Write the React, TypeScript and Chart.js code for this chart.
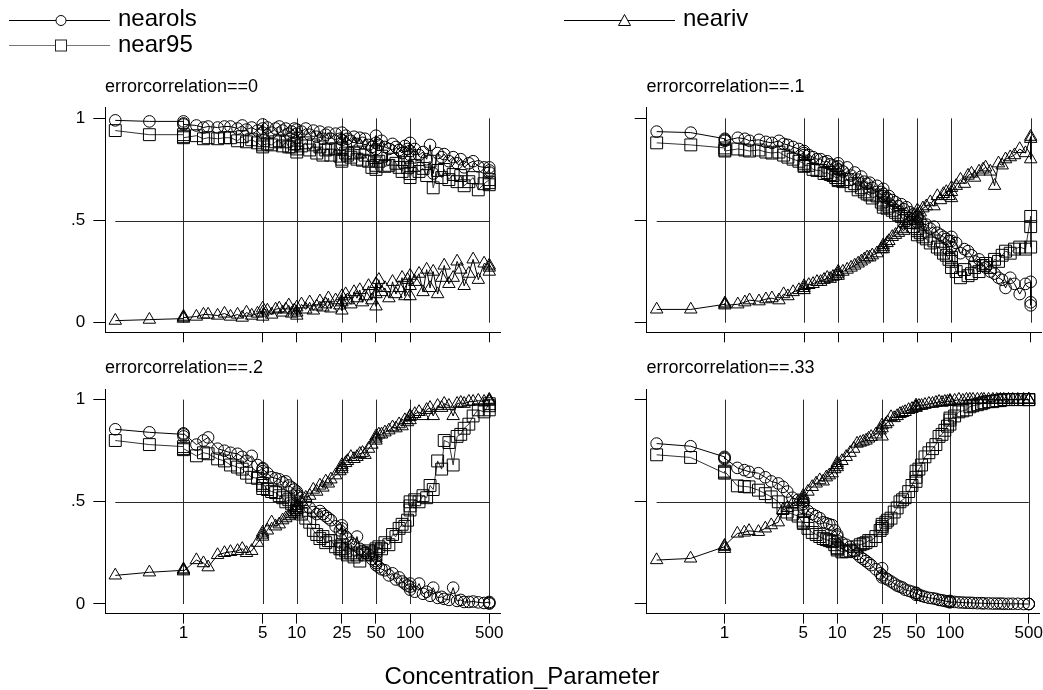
import React, { useEffect, useRef } from "react";
import { Chart, registerables } from "chart.js";

Chart.register(...registerables);

const W = 1043;
const H = 690;
const FONT = "'Liberation Sans', Arial, Helvetica, sans-serif";

// Concentration parameter (x) values shared by all panels
const CONC = [
  0.25, 0.5, 1, 1, 1, 1.3, 1.5, 1.65, 2, 2.3,
  2.6, 3, 3.3, 3.6, 4, 4.5, 5, 5, 5, 5.5,
  6, 6.5, 7, 7.5, 8, 8.5, 9, 9.5, 10, 10,
  10, 11, 12, 13, 14, 15, 16, 17, 18, 19,
  20, 22, 24, 25, 25, 25, 27, 28, 30, 32,
  34, 36, 38, 40, 43, 46, 50, 50, 50, 53,
  56, 60, 65, 70, 75, 80, 85, 90, 95, 100,
  100, 100, 110, 120, 130, 140, 150, 160, 175, 190,
  200, 220, 240, 260, 280, 300, 330, 360, 400, 450,
  500, 500, 500,
];

const X_TICKS = [1, 5, 10, 25, 50, 100, 500];
const Y_TICKS = [0, 0.5, 1];
const Y_TICK_LABELS = ["0", ".5", "1"];

const PANEL_TITLES = [
  "errorcorrelation==0",
  "errorcorrelation==.1",
  "errorcorrelation==.2",
  "errorcorrelation==.33",
];
const SERIES_NAMES = ["nearols", "neariv", "near95"];
const X_TITLE = "Concentration_Parameter";

// errorcorrelation == 0
const NEAROLS_R0 = [
  0.99, 0.985, 0.985, 0.975, 0.97, 0.965, 0.955, 0.96, 0.955, 0.96,
  0.96, 0.95, 0.965, 0.945, 0.955, 0.94, 0.97, 0.95, 0.93, 0.955,
  0.93, 0.95, 0.96, 0.94, 0.95, 0.925, 0.935, 0.95, 0.945, 0.925,
  0.905, 0.935, 0.95, 0.92, 0.94, 0.91, 0.935, 0.9, 0.92, 0.93,
  0.9, 0.925, 0.9, 0.93, 0.895, 0.87, 0.915, 0.9, 0.89, 0.91,
  0.875, 0.905, 0.88, 0.9, 0.87, 0.86, 0.915, 0.88, 0.85, 0.87,
  0.89, 0.86, 0.85, 0.875, 0.86, 0.845, 0.83, 0.865, 0.85, 0.88,
  0.84, 0.82, 0.85, 0.82, 0.835, 0.8, 0.87, 0.73, 0.83, 0.81,
  0.825, 0.79, 0.81, 0.78, 0.8, 0.76, 0.78, 0.79, 0.765, 0.76,
  0.76, 0.745, 0.735,
];
const NEAR95_R0 = [
  0.94, 0.92, 0.92, 0.91, 0.905, 0.915, 0.9, 0.905, 0.9, 0.905,
  0.905, 0.89, 0.91, 0.885, 0.895, 0.88, 0.86, 0.89, 0.87, 0.875,
  0.87, 0.885, 0.89, 0.865, 0.885, 0.86, 0.86, 0.875, 0.875, 0.85,
  0.835, 0.865, 0.88, 0.845, 0.87, 0.83, 0.86, 0.82, 0.845, 0.85,
  0.82, 0.85, 0.815, 0.855, 0.8, 0.79, 0.83, 0.82, 0.81, 0.83,
  0.8, 0.835, 0.795, 0.82, 0.79, 0.76, 0.84, 0.77, 0.75, 0.79,
  0.815, 0.765, 0.77, 0.8, 0.78, 0.76, 0.74, 0.785, 0.76, 0.81,
  0.73, 0.71, 0.77, 0.74, 0.755, 0.72, 0.79, 0.66, 0.745, 0.71,
  0.75, 0.7, 0.725, 0.69, 0.72, 0.67, 0.69, 0.71, 0.65, 0.68,
  0.7, 0.685, 0.675,
];
const NEARIV_R0 = [
  0.01, 0.015, 0.02, 0.03, 0.025, 0.03, 0.04, 0.04, 0.035, 0.045,
  0.03, 0.04, 0.025, 0.05, 0.035, 0.045, 0.05, 0.03, 0.07, 0.06,
  0.04, 0.065, 0.07, 0.05, 0.065, 0.085, 0.045, 0.06, 0.075, 0.05,
  0.035, 0.09, 0.065, 0.1, 0.06, 0.08, 0.105, 0.075, 0.09, 0.12,
  0.07, 0.11, 0.085, 0.13, 0.1, 0.06, 0.14, 0.11, 0.09, 0.15,
  0.12, 0.16, 0.1, 0.13, 0.18, 0.11, 0.19, 0.08, 0.14, 0.21,
  0.15, 0.17, 0.12, 0.2, 0.14, 0.17, 0.22, 0.13, 0.21, 0.23,
  0.13, 0.18, 0.2, 0.24, 0.15, 0.26, 0.17, 0.25, 0.14, 0.22,
  0.28, 0.19, 0.22, 0.3, 0.26, 0.18, 0.24, 0.31, 0.21, 0.29,
  0.28, 0.27, 0.25,
];

// errorcorrelation == .1
const NEAROLS_R1 = [
  0.935, 0.93, 0.9, 0.895, 0.89, 0.905, 0.9, 0.89, 0.895, 0.885,
  0.88, 0.89, 0.875, 0.87, 0.86, 0.85, 0.83, 0.84, 0.82, 0.82,
  0.81, 0.8, 0.8, 0.785, 0.79, 0.775, 0.77, 0.76, 0.78, 0.75,
  0.765, 0.74, 0.76, 0.72, 0.735, 0.7, 0.715, 0.69, 0.68, 0.685,
  0.66, 0.67, 0.64, 0.63, 0.655, 0.62, 0.61, 0.62, 0.6, 0.59,
  0.57, 0.58, 0.555, 0.565, 0.54, 0.53, 0.515, 0.49, 0.52, 0.5,
  0.48, 0.48, 0.46, 0.47, 0.44, 0.43, 0.42, 0.41, 0.4, 0.4,
  0.37, 0.42, 0.39, 0.34, 0.36, 0.35, 0.33, 0.3, 0.31, 0.28,
  0.27, 0.25, 0.24, 0.22, 0.21, 0.17, 0.22, 0.19, 0.14, 0.19,
  0.2, 0.1, 0.085,
];
const NEAR95_R1 = [
  0.88, 0.87, 0.855, 0.845, 0.84, 0.85, 0.845, 0.84, 0.845, 0.835,
  0.83, 0.835, 0.82, 0.81, 0.8, 0.79, 0.78, 0.765, 0.77, 0.77,
  0.75, 0.745, 0.745, 0.73, 0.735, 0.725, 0.72, 0.71, 0.71, 0.695,
  0.7, 0.69, 0.7, 0.67, 0.68, 0.65, 0.66, 0.64, 0.63, 0.625,
  0.61, 0.62, 0.59, 0.58, 0.6, 0.565, 0.56, 0.57, 0.55, 0.54,
  0.53, 0.52, 0.5, 0.51, 0.49, 0.47, 0.46, 0.43, 0.45, 0.44,
  0.42, 0.41, 0.39, 0.4, 0.37, 0.36, 0.34, 0.33, 0.31, 0.3,
  0.27, 0.32, 0.25, 0.22, 0.26, 0.23, 0.24, 0.27, 0.25, 0.28,
  0.29, 0.27, 0.31, 0.3, 0.33, 0.35, 0.34, 0.36, 0.37, 0.36,
  0.52, 0.47, 0.37,
];
const NEARIV_R1 = [
  0.065, 0.065, 0.09, 0.095, 0.085, 0.09, 0.1, 0.11, 0.105, 0.115,
  0.12, 0.11, 0.14, 0.13, 0.15, 0.16, 0.18, 0.17, 0.16, 0.185,
  0.19, 0.2, 0.2, 0.21, 0.22, 0.215, 0.225, 0.23, 0.24, 0.23,
  0.25, 0.25, 0.26, 0.27, 0.28, 0.29, 0.3, 0.31, 0.32, 0.32,
  0.33, 0.34, 0.36, 0.37, 0.38, 0.36, 0.39, 0.4, 0.42, 0.43,
  0.44, 0.46, 0.45, 0.48, 0.5, 0.52, 0.5, 0.55, 0.53, 0.54,
  0.56, 0.57, 0.59, 0.57, 0.62, 0.6, 0.63, 0.64, 0.62, 0.66,
  0.61, 0.64, 0.67, 0.7, 0.68, 0.72, 0.73, 0.71, 0.74, 0.75,
  0.76, 0.74, 0.67, 0.78, 0.77, 0.8, 0.81, 0.82, 0.85, 0.83,
  0.91, 0.9, 0.8,
];

// errorcorrelation == .2
const NEAROLS_R2 = [
  0.855, 0.84, 0.83, 0.82, 0.835, 0.78, 0.8, 0.815, 0.76, 0.75,
  0.74, 0.735, 0.72, 0.7, 0.725, 0.68, 0.665, 0.65, 0.66, 0.64,
  0.62, 0.615, 0.61, 0.595, 0.6, 0.58, 0.57, 0.56, 0.55, 0.53,
  0.54, 0.52, 0.5, 0.47, 0.45, 0.44, 0.455, 0.44, 0.43, 0.42,
  0.41, 0.38, 0.36, 0.385, 0.34, 0.37, 0.33, 0.32, 0.3, 0.29,
  0.33, 0.27, 0.26, 0.25, 0.24, 0.22, 0.19, 0.21, 0.2, 0.18,
  0.17, 0.165, 0.14, 0.15, 0.12, 0.13, 0.11, 0.1, 0.09, 0.085,
  0.07, 0.1, 0.06, 0.1, 0.05, 0.06, 0.04, 0.08, 0.03, 0.035,
  0.025, 0.02, 0.08, 0.015, 0.02, 0.01, 0.01, 0.012, 0.008, 0.005,
  0.01, 0.005, 0.002,
];
const NEAR95_R2 = [
  0.8, 0.78, 0.77, 0.755, 0.76, 0.725, 0.74, 0.735, 0.71, 0.7,
  0.68, 0.67, 0.66, 0.64, 0.62, 0.615, 0.58, 0.565, 0.59, 0.56,
  0.55, 0.545, 0.53, 0.52, 0.5, 0.51, 0.49, 0.48, 0.47, 0.45,
  0.46, 0.44, 0.42, 0.4, 0.36, 0.34, 0.32, 0.33, 0.3, 0.31,
  0.31, 0.28, 0.27, 0.29, 0.25, 0.27, 0.26, 0.24, 0.25, 0.23,
  0.24, 0.21, 0.25, 0.24, 0.26, 0.25, 0.27, 0.26, 0.24, 0.28,
  0.27, 0.3, 0.29, 0.34, 0.33, 0.37, 0.39, 0.38, 0.41, 0.48,
  0.5, 0.46, 0.51, 0.5, 0.53, 0.52, 0.58, 0.56, 0.7, 0.66,
  0.8, 0.79, 0.68, 0.82, 0.83, 0.86, 0.88, 0.92, 0.95, 0.94,
  0.98, 0.97, 0.95,
];
const NEARIV_R2 = [
  0.14, 0.155, 0.165, 0.17, 0.16, 0.215, 0.2, 0.18, 0.24, 0.25,
  0.255, 0.26, 0.27, 0.25, 0.26, 0.3, 0.33, 0.35, 0.34, 0.36,
  0.4, 0.38, 0.39, 0.41, 0.42, 0.43, 0.44, 0.45, 0.48, 0.46,
  0.47, 0.5, 0.52, 0.53, 0.56, 0.55, 0.58, 0.57, 0.6, 0.59,
  0.61, 0.63, 0.65, 0.67, 0.66, 0.68, 0.69, 0.7, 0.72, 0.71,
  0.72, 0.735, 0.74, 0.73, 0.76, 0.78, 0.8, 0.82, 0.81, 0.83,
  0.83, 0.84, 0.85, 0.865, 0.86, 0.88, 0.87, 0.9, 0.89, 0.915,
  0.92, 0.9, 0.93, 0.94, 0.92, 0.95, 0.96, 0.92, 0.97, 0.96,
  0.98, 0.97, 0.92, 0.98, 0.985, 0.98, 0.99, 0.99, 0.995, 0.99,
  1.0, 0.995, 0.99,
];

// errorcorrelation == .33
const NEAROLS_R3 = [
  0.785, 0.772, 0.72, 0.71, 0.715, 0.666, 0.655, 0.647, 0.64, 0.62,
  0.6, 0.59, 0.573, 0.55, 0.52, 0.51, 0.49, 0.47, 0.5, 0.455,
  0.44, 0.43, 0.42, 0.4, 0.395, 0.39, 0.386, 0.36, 0.34, 0.31,
  0.33, 0.3, 0.29, 0.28, 0.26, 0.245, 0.23, 0.22, 0.21, 0.2,
  0.19, 0.17, 0.15, 0.175, 0.13, 0.14, 0.125, 0.12, 0.11, 0.1,
  0.09, 0.085, 0.08, 0.07, 0.065, 0.06, 0.052, 0.045, 0.055, 0.045,
  0.04, 0.035, 0.03, 0.028, 0.025, 0.02, 0.018, 0.015, 0.012, 0.011,
  0.015, 0.008, 0.01, 0.008, 0.007, 0.006, 0.006, 0.005, 0.004, 0.004,
  0.003, 0.003, 0.002, 0.002, 0.002, 0.001, 0.001, 0.001, 0.001, 0,
  0, 0, 0,
];
const NEAR95_R3 = [
  0.73, 0.717, 0.64, 0.645, 0.65, 0.578, 0.575, 0.573, 0.557, 0.54,
  0.524, 0.5, 0.467, 0.45, 0.44, 0.43, 0.394, 0.41, 0.4, 0.37,
  0.35, 0.34, 0.33, 0.32, 0.315, 0.31, 0.305, 0.29, 0.275, 0.264,
  0.27, 0.255, 0.256, 0.26, 0.264, 0.28, 0.29, 0.295, 0.3, 0.31,
  0.31, 0.33, 0.36, 0.38, 0.37, 0.39, 0.4, 0.41, 0.42, 0.45,
  0.47, 0.5, 0.51, 0.52, 0.55, 0.58, 0.62, 0.65, 0.6, 0.66,
  0.68, 0.72, 0.74, 0.76, 0.78, 0.82, 0.83, 0.85, 0.87, 0.88,
  0.91, 0.9, 0.92, 0.94, 0.945, 0.95, 0.965, 0.97, 0.975, 0.98,
  0.985, 0.99, 0.99, 0.995, 0.995, 1.0, 1.0, 1.0, 1.0, 1.0,
  1.0, 1.0, 1.0,
];
const NEARIV_R3 = [
  0.215, 0.223, 0.28, 0.27, 0.285, 0.345, 0.35, 0.358, 0.353, 0.37,
  0.386, 0.4, 0.46, 0.47, 0.49, 0.5, 0.53, 0.52, 0.51, 0.55,
  0.573, 0.59, 0.606, 0.6, 0.62, 0.63, 0.64, 0.66, 0.68, 0.67,
  0.69, 0.7, 0.72, 0.74, 0.76, 0.785, 0.79, 0.795, 0.8, 0.81,
  0.818, 0.83, 0.85, 0.875, 0.82, 0.86, 0.88, 0.89, 0.915, 0.91,
  0.92, 0.93, 0.935, 0.94, 0.95, 0.955, 0.972, 0.96, 0.965, 0.97,
  0.97, 0.975, 0.98, 0.98, 0.985, 0.99, 0.985, 0.99, 0.99, 0.99,
  0.995, 0.99, 0.995, 1.0, 0.995, 1.0, 1.0, 1.0, 1.0, 1.0,
  1.0, 1.0, 1.0, 1.0, 1.0, 1.0, 1.0, 1.0, 1.0, 1.0,
  1.0, 1.0, 1.0,
];

const PANELS = [
  { title: PANEL_TITLES[0], ols: NEAROLS_R0, p95: NEAR95_R0, iv: NEARIV_R0, col: 0, row: 0 },
  { title: PANEL_TITLES[1], ols: NEAROLS_R1, p95: NEAR95_R1, iv: NEARIV_R1, col: 1, row: 0 },
  { title: PANEL_TITLES[2], ols: NEAROLS_R2, p95: NEAR95_R2, iv: NEARIV_R2, col: 0, row: 1 },
  { title: PANEL_TITLES[3], ols: NEAROLS_R3, p95: NEAR95_R3, iv: NEARIV_R3, col: 1, row: 1 },
];

// Layout geometry (top-left panel plot area, and offsets to the others)
const AREA_LEFT = 105.3;
const AREA_RIGHT = 500;
const AREA_TOP = 107.7;
const AREA_BOTTOM = 332.3;
const DX = 541.4;
const DY = 281.3;
const X_MIN = 0.2041;
const X_MAX = 621.7;
const Y_MIN = -0.047;
const Y_MAX = 1.052;
const Y_AXIS_W = 60;
const X_AXIS_H = 50;

const gridPlugin = {
  id: "stataGrid",
  beforeDatasetsDraw(chart: any) {
    const { ctx, scales } = chart;
    const xs = scales.x;
    const ys = scales.y;
    ctx.save();
    ctx.strokeStyle = "#2a2a2a";
    ctx.lineWidth = 1;
    const y0 = ys.getPixelForValue(0);
    const y1 = ys.getPixelForValue(1);
    X_TICKS.forEach((v) => {
      const px = Math.round(xs.getPixelForValue(v)) + 0.5;
      ctx.beginPath();
      ctx.moveTo(px, y0);
      ctx.lineTo(px, y1);
      ctx.stroke();
    });
    const py = Math.round(ys.getPixelForValue(0.5)) + 0.5;
    ctx.beginPath();
    ctx.moveTo(xs.getPixelForValue(Math.min(...CONC)), py);
    ctx.lineTo(xs.getPixelForValue(Math.max(...CONC)), py);
    ctx.stroke();
    ctx.restore();
  },
};

function makeDataset(label: string, ys: number[], style: string, radius: number, lineColor: string, ptColor: string) {
  return {
    label,
    data: CONC.map((x, i) => ({ x, y: ys[i] })),
    borderColor: lineColor,
    borderWidth: 1,
    pointStyle: style,
    pointRadius: radius,
    pointBorderColor: ptColor,
    pointBackgroundColor: "rgba(0,0,0,0)",
    pointBorderWidth: 1,
    fill: false,
    tension: 0,
    clip: false,
    showLine: true,
  };
}

function makeConfig(p: any): any {
  const left = AREA_LEFT + p.col * DX;
  const right = AREA_RIGHT + p.col * DX;
  const top = AREA_TOP + p.row * DY;
  const bottom = AREA_BOTTOM + p.row * DY;
  const showX = p.row === 1;
  const showY = p.col === 0;
  return {
    type: "line",
    data: {
      datasets: [
        makeDataset(SERIES_NAMES[0], p.ols, "circle", 5.8, "#000", "#000"),
        makeDataset(SERIES_NAMES[1], p.iv, "triangle", 7.2, "#000", "#000"),
        makeDataset(SERIES_NAMES[2], p.p95, "rect", 8.4, "#333", "#000"),
      ],
    },
    options: {
      responsive: false,
      maintainAspectRatio: false,
      animation: false,
      events: [],
      layout: {
        autoPadding: false,
        padding: {
          left: left - Y_AXIS_W,
          top: top,
          right: W - right,
          bottom: H - bottom - X_AXIS_H,
        },
      },
      plugins: {
        legend: { display: false },
        title: { display: false },
        tooltip: { enabled: false },
      },
      scales: {
        x: {
          type: "logarithmic",
          position: "bottom",
          min: X_MIN,
          max: X_MAX,
          bounds: "data",
          afterBuildTicks: (s: any) => {
            s.ticks = X_TICKS.map((v) => ({ value: v }));
          },
          afterFit: (s: any) => {
            s.height = X_AXIS_H;
          },
          ticks: {
            display: showX,
            autoSkip: false,
            maxRotation: 0,
            minRotation: 0,
            color: "#000",
            padding: 0,
            font: { size: 17, family: FONT },
            callback: (v: any) => String(v),
          },
          grid: {
            display: true,
            drawOnChartArea: false,
            drawTicks: true,
            tickLength: 10,
            tickColor: "#000",
            tickWidth: 1,
            color: "#000",
          },
          border: { display: true, color: "#000", width: 1 },
        },
        y: {
          type: "linear",
          position: "left",
          min: Y_MIN,
          max: Y_MAX,
          bounds: "data",
          afterBuildTicks: (s: any) => {
            s.ticks = Y_TICKS.map((v) => ({ value: v }));
          },
          afterFit: (s: any) => {
            s.width = Y_AXIS_W;
          },
          ticks: {
            display: showY,
            color: "#000",
            padding: 8,
            font: { size: 17, family: FONT },
            callback: (v: any) => {
              const i = Y_TICKS.indexOf(v);
              return i >= 0 ? Y_TICK_LABELS[i] : "";
            },
          },
          grid: {
            display: true,
            drawOnChartArea: false,
            drawTicks: true,
            tickLength: 12,
            tickColor: "#000",
            tickWidth: 1,
            color: "#000",
          },
          border: { display: true, color: "#000", width: 1 },
        },
      },
    },
    plugins: [gridPlugin],
  };
}

export default function App() {
  const r0 = useRef<HTMLCanvasElement | null>(null);
  const r1 = useRef<HTMLCanvasElement | null>(null);
  const r2 = useRef<HTMLCanvasElement | null>(null);
  const r3 = useRef<HTMLCanvasElement | null>(null);
  const refs = [r0, r1, r2, r3];

  useEffect(() => {
    const charts = PANELS.map((p, i) => new Chart(refs[i].current as HTMLCanvasElement, makeConfig(p)));
    return () => charts.forEach((c) => c.destroy());
  }, []);

  return (
    <div
      style={{
        position: "absolute",
        left: 0,
        top: 0,
        width: W,
        height: H,
        background: "#fff",
        overflow: "hidden",
      }}
    >
      {PANELS.map((p, i) => (
        <canvas
          key={i}
          ref={refs[i]}
          width={W}
          height={H}
          style={{ position: "absolute", left: 0, top: 0, width: W, height: H }}
        />
      ))}
      <svg
        width={W}
        height={H}
        style={{ position: "absolute", left: 0, top: 0, pointerEvents: "none" }}
        fontFamily={FONT}
      >
        {/* legend */}
        <line x1={9} y1={20.5} x2={110} y2={20.5} stroke="#000" strokeWidth={1} />
        <circle cx={61} cy={20.5} r={5} fill="#fff" stroke="#000" strokeWidth={1} />
        <text x={118} y={26} fontSize={24} fill="#000">{SERIES_NAMES[0]}</text>

        <line x1={9} y1={45.5} x2={110} y2={45.5} stroke="#777" strokeWidth={1} />
        <rect x={55.5} y={40} width={11} height={11} fill="#fff" stroke="#222" strokeWidth={1} />
        <text x={118} y={51.7} fontSize={24} fill="#000">{SERIES_NAMES[2]}</text>

        <line x1={564} y1={20.5} x2={675} y2={20.5} stroke="#000" strokeWidth={1} />
        <polygon points="624.5,14.5 630.5,25.5 618.5,25.5" fill="#fff" stroke="#000" strokeWidth={1} />
        <text x={683} y={26} fontSize={24} fill="#000">{SERIES_NAMES[1]}</text>

        {/* panel titles */}
        {PANELS.map((p, i) => (
          <text key={i} x={105 + p.col * DX} y={91.7 + p.row * DY} fontSize={18} fill="#000">
            {p.title}
          </text>
        ))}

        {/* x axis title */}
        <text x={522} y={684} fontSize={24} fill="#000" textAnchor="middle">
          {X_TITLE}
        </text>
      </svg>
    </div>
  );
}
